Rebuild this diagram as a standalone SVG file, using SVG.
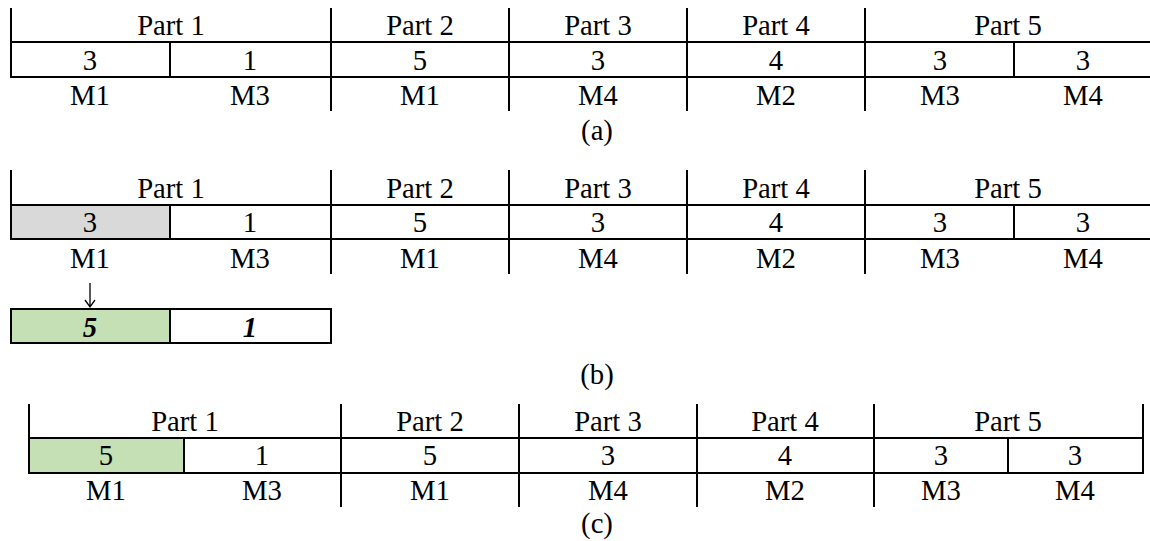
<svg xmlns="http://www.w3.org/2000/svg" width="1150" height="541" viewBox="0 0 1150 541">
<style>
text{font-family:"Liberation Serif","Times New Roman",serif;font-size:28.7px;fill:#000;text-anchor:middle}
.bi{font-weight:bold;font-style:italic}
line{stroke:#000;stroke-width:2}
.grey{fill:#d9d9d9}
.green{fill:#c5e0b4}
.arr{stroke:#000;stroke-width:1.3;fill:none}
</style>
<rect width="1150" height="541" fill="#fff"/>
<g id="table-a">
<line x1="11" y1="8" x2="11" y2="77"/>
<line x1="10" y1="42" x2="1150" y2="42"/>
<line x1="10" y1="77" x2="1150" y2="77"/>
<line x1="331" y1="8" x2="331" y2="111"/>
<line x1="509" y1="8" x2="509" y2="111"/>
<line x1="687" y1="8" x2="687" y2="111"/>
<line x1="865" y1="8" x2="865" y2="111"/>
<line x1="170" y1="42" x2="170" y2="77"/>
<line x1="1014" y1="42" x2="1014" y2="77"/>
<text x="171" y="35">Part 1</text><text x="420" y="35">Part 2</text><text x="598" y="35">Part 3</text><text x="776" y="35">Part 4</text><text x="1008" y="35">Part 5</text>
<text x="90" y="70">3</text><text x="250" y="70">1</text><text x="420" y="70">5</text><text x="598" y="70">3</text><text x="776" y="70">4</text><text x="940" y="70">3</text><text x="1083" y="70">3</text>
<text x="90" y="105">M1</text><text x="250" y="105">M3</text><text x="420" y="105">M1</text><text x="598" y="105">M4</text><text x="776" y="105">M2</text><text x="940" y="105">M3</text><text x="1083" y="105">M4</text>
<text x="597" y="140">(a)</text>
</g>
<g id="table-b">
<rect class="grey" x="11" y="205" width="159" height="34"/>
<line x1="11" y1="170" x2="11" y2="239"/>
<line x1="10" y1="205" x2="1150" y2="205"/>
<line x1="10" y1="239" x2="1150" y2="239"/>
<line x1="331" y1="170" x2="331" y2="274"/>
<line x1="509" y1="170" x2="509" y2="274"/>
<line x1="687" y1="170" x2="687" y2="274"/>
<line x1="865" y1="170" x2="865" y2="274"/>
<line x1="170" y1="205" x2="170" y2="239"/>
<line x1="1014" y1="205" x2="1014" y2="239"/>
<text x="171" y="198">Part 1</text><text x="420" y="198">Part 2</text><text x="598" y="198">Part 3</text><text x="776" y="198">Part 4</text><text x="1008" y="198">Part 5</text>
<text x="90" y="232">3</text><text x="250" y="232">1</text><text x="420" y="232">5</text><text x="598" y="232">3</text><text x="776" y="232">4</text><text x="940" y="232">3</text><text x="1083" y="232">3</text>
<text x="90" y="268">M1</text><text x="250" y="268">M3</text><text x="420" y="268">M1</text><text x="598" y="268">M4</text><text x="776" y="268">M2</text><text x="940" y="268">M3</text><text x="1083" y="268">M4</text>
</g>
<g id="connectors">
<path class="arr" d="M90,283 V307 M85,300 L90,307 L95,300"/>
</g>
<g id="new-part1">
<rect class="green" x="11" y="309" width="159" height="34"/>
<rect x="11" y="309" width="320" height="34" fill="none" stroke="#000" stroke-width="2"/>
<line x1="170" y1="309" x2="170" y2="343"/>
<text class="bi" x="90" y="337">5</text><text class="bi" x="250" y="337">1</text>
<text x="597" y="384">(b)</text>
</g>
<g id="table-c">
<rect class="green" x="29" y="438" width="155" height="35"/>
<line x1="29" y1="404" x2="29" y2="473"/>
<line x1="1143" y1="404" x2="1143" y2="473"/>
<line x1="28" y1="438" x2="1144" y2="438"/>
<line x1="28" y1="473" x2="1144" y2="473"/>
<line x1="341" y1="404" x2="341" y2="507"/>
<line x1="519" y1="404" x2="519" y2="507"/>
<line x1="697" y1="404" x2="697" y2="507"/>
<line x1="874" y1="404" x2="874" y2="507"/>
<line x1="184" y1="438" x2="184" y2="473"/>
<line x1="1008" y1="438" x2="1008" y2="473"/>
<text x="185" y="431">Part 1</text><text x="430" y="431">Part 2</text><text x="608" y="431">Part 3</text><text x="785" y="431">Part 4</text><text x="1008" y="431">Part 5</text>
<text x="106" y="465">5</text><text x="262" y="465">1</text><text x="430" y="465">5</text><text x="608" y="465">3</text><text x="785" y="465">4</text><text x="941" y="465">3</text><text x="1075" y="465">3</text>
<text x="106" y="500">M1</text><text x="262" y="500">M3</text><text x="430" y="500">M1</text><text x="608" y="500">M4</text><text x="785" y="500">M2</text><text x="941" y="500">M3</text><text x="1075" y="500">M4</text>
<text x="597" y="533">(c)</text>
</g>
</svg>
